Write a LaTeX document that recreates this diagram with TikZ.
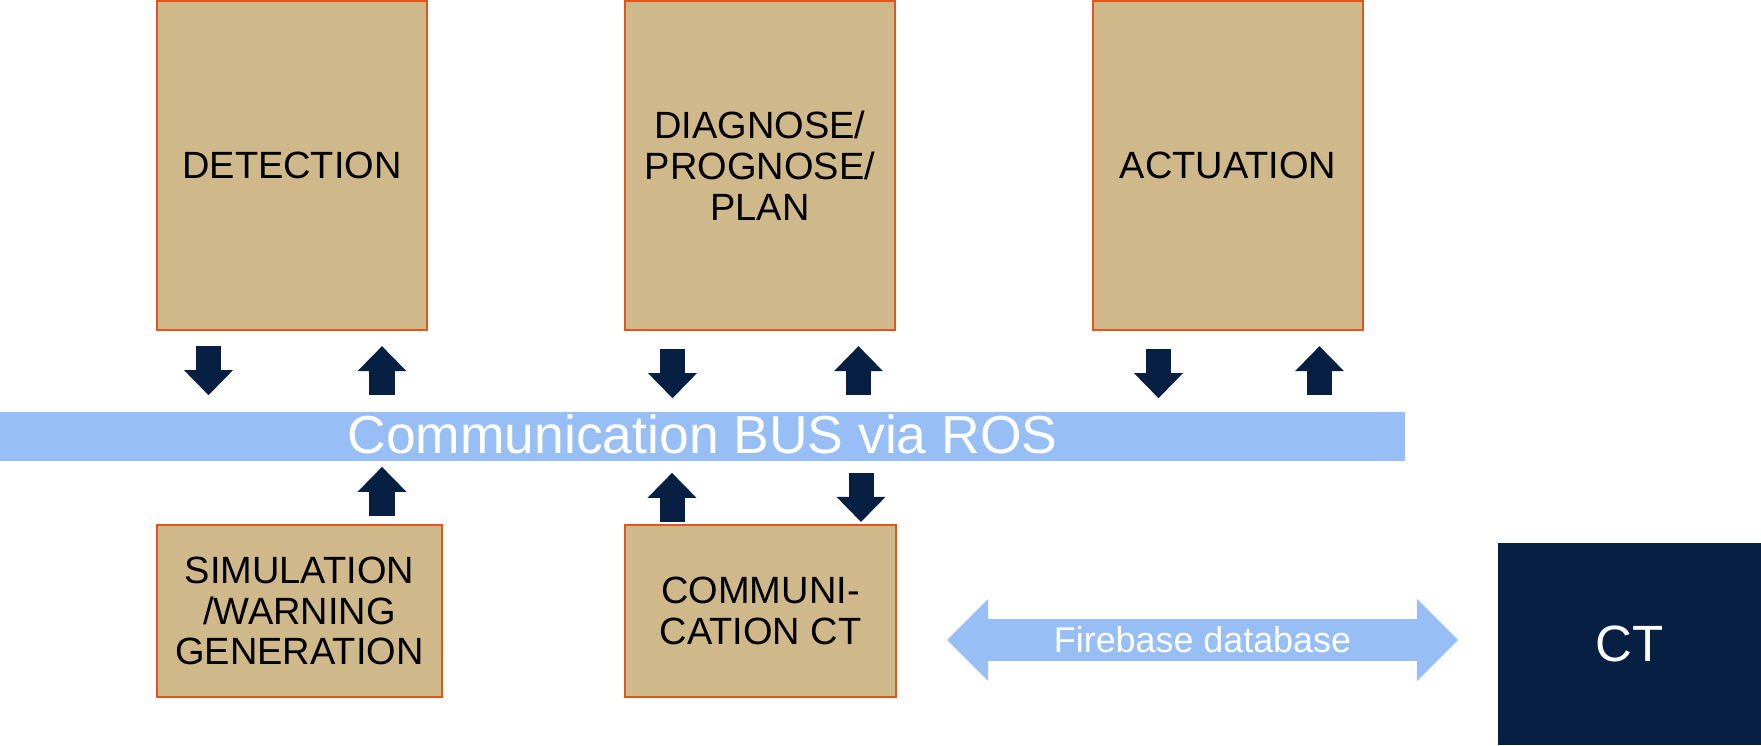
\documentclass[tikz,border=0pt]{standalone}
\usepackage{fontspec}
\setmainfont{Liberation Sans}
\usetikzlibrary{arrows.meta,calc}
\definecolor{boxtan}{RGB}{207,184,137}
\definecolor{boxedge}{RGB}{224,86,26}
\definecolor{navy}{RGB}{6,31,66}
\definecolor{busblue}{RGB}{151,191,245}
\tikzset{
  module/.style={draw=boxedge,fill=boxtan,line width=0.6pt,align=center,inner sep=0pt,
    font=\fontsize{10.8}{11.6}\selectfont},
  blk/.style={navy,line width=0.25cm,-{Triangle[width=0.49cm,length=0.25cm,line width=0pt]}},
  dbl/.style={busblue,line width=0.42cm,
    {Triangle[width=0.82cm,length=0.41cm,line width=0pt]}-{Triangle[width=0.82cm,length=0.41cm,line width=0pt]}},
}

\begin{document}
\begin{tikzpicture}[x=0.01cm,y=-0.01cm]
    \useasboundingbox (0,0) rectangle (1761,745);

    % Modules
    \node[module,minimum width=2.70cm,minimum height=3.29cm] (det) at (292,165.5) {DETECTION};
    \node[module,minimum width=2.70cm,minimum height=3.29cm] (diag) at (760,165.5) {DIAGNOSE/\\PROGNOSE/\\PLAN};
    \node[module,minimum width=2.70cm,minimum height=3.29cm] (act) at (1228,165.5) {ACTUATION};
    \node[module,minimum width=2.84cm,minimum height=1.72cm] (sim) at (299.5,611) {SIMULATION\\/WARNING\\GENERATION};
    \node[module,minimum width=2.70cm,minimum height=1.72cm] (comm) at (760.5,611) {COMMUNI-\\CATION CT};

    % Bus
    \node[fill=busblue,inner sep=0pt,minimum width=14.05cm,minimum height=0.49cm] (bus) at (702.5,436.5) {};
    \node[text=white,font=\fontsize{15.2}{17}\selectfont] (buslbl) at (702.5,434) {Communication BUS via ROS};

    % Twin
    \node[fill=navy,text=white,inner sep=0pt,minimum width=2.63cm,minimum height=2.02cm,
      font=\fontsize{14.5}{16}\selectfont] (ct) at (1629.5,644) {CT};

    % Arrows to and from the bus
    \draw[blk] ($(det.south)+(-83.5,15)$) -- ($(det.south)+(-83.5,64)$);
    \draw[blk] ($(det.south)+(90,64)$) -- ($(det.south)+(90,15)$);
    \draw[blk] ($(diag.south)+(-87.5,18)$) -- ($(diag.south)+(-87.5,67)$);
    \draw[blk] ($(diag.south)+(98.5,64)$) -- ($(diag.south)+(98.5,15)$);
    \draw[blk] ($(act.south)+(-69.5,18)$) -- ($(act.south)+(-69.5,67)$);
    \draw[blk] ($(act.south)+(91.5,64)$) -- ($(act.south)+(91.5,15)$);
    \draw[blk] ($(sim.north)+(82.5,-8)$) -- ($(sim.north)+(82.5,-57)$);
    \draw[blk] ($(comm.north)+(-88.5,-2)$) -- ($(comm.north)+(-88.5,-51)$);
    \draw[blk] ($(comm.north)+(100.5,-51)$) -- ($(comm.north)+(100.5,-2)$);

    % Firebase link
    \coordinate (fbl) at (947,640);
    \coordinate (fbr) at (1458,640);
    \draw[dbl] (fbl) -- node[text=white,font=\fontsize{10.2}{12}\selectfont] (fbtxt) {Firebase database} (fbr);
\end{tikzpicture}
\end{document}
